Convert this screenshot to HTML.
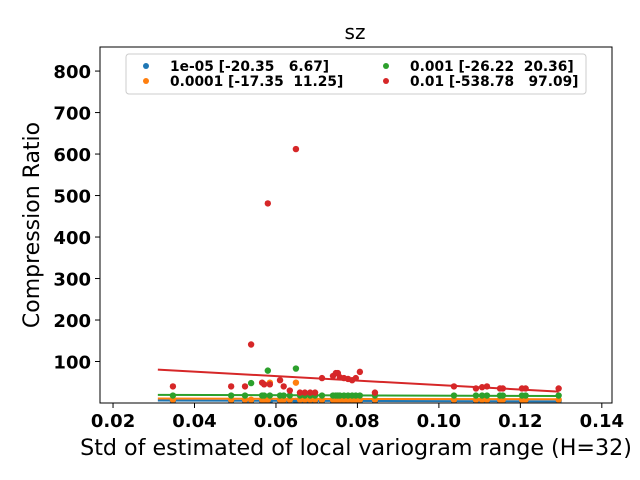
<!DOCTYPE html>
<html><head><meta charset="utf-8"><style>
body{margin:0;background:#fff;}
svg{display:block;font-family:"DejaVu Sans","Liberation Sans",sans-serif;}
</style></head><body>
<svg id="chart" width="640" height="480">
<rect x="0" y="0" width="640" height="480" fill="#fff"/>
<text x="355" y="39" text-anchor="middle" font-size="20">sz</text>
<g id="plot"></g>
<text x="356" y="455" text-anchor="middle" font-size="22.2">Std of estimated of local variogram range (H=32)</text>
<text transform="translate(39,225) rotate(-90)" text-anchor="middle" font-size="22">Compression Ratio</text>
</svg>
<script>
const xs = [0.0347,0.049,0.0524,0.0539,0.0566,0.0571,0.058,0.0585,0.061,0.0619,0.0634,0.0649,0.0659,0.0671,0.0684,0.0696,0.0713,0.074,0.0747,0.0752,0.0757,0.0767,0.0777,0.0787,0.0796,0.0806,0.0843,0.1037,0.1091,0.1106,0.1118,0.115,0.1157,0.1204,0.1213,0.1294];
const redVals = [40,40,40,141,49,45,481,45,55,40,30,612,25,25,25,25,60,65,72,72,62,60,58,55,60,75,25,40,35,38,40,35,35,35,35,35];
const greenVals = [18,18,18,48,18,18,78,18,18,18,18,83,18,18,18,18,18,18,18,18,18,18,18,18,18,18,18,18,18,18,18,18,18,18,18,18];
const orangeVals = [8,8,8,8,8,8,8,49,8,8,8,49,8,8,8,8,8,8,8,8,8,8,8,8,8,8,8,8,8,8,8,8,8,8,8,8];
const blueVals = [5,5,5,5,5,5,5,5,5,5,5,5,5,5,5,5,5,5,5,5,5,5,5,5,5,5,5,5,5,5,5,5,5,5,5,5];
const seriesNames = ["1e-05","0.0001","0.001","0.01"];
const slopes = [-20.35,-17.35,-26.22,-538.78];
const intercepts = [6.67,11.25,20.36,97.09];
const lineRange = [0.031,0.1294];
const xTicks = [0.02,0.04,0.06,0.08,0.10,0.12,0.14];
const xTickLabels = ["0.02","0.04","0.06","0.08","0.10","0.12","0.14"];
const yTicks = [100,200,300,400,500,600,700,800];

const X0=100,X1=612,Y0=403,Y1=47;
const xMin=0.0168,xMax=0.1425,yMin=0,yMax=858;
const sx=v=>X0+(v-xMin)/(xMax-xMin)*(X1-X0);
const sy=v=>Y0-(v-yMin)/(yMax-yMin)*(Y0-Y1);
const NS="http://www.w3.org/2000/svg";
const plot=document.getElementById('plot');
function mk(tag,attrs,parent){const e=document.createElementNS(NS,tag);for(const k in attrs)e.setAttribute(k,attrs[k]);(parent||plot).appendChild(e);return e;}
const colors=["#1f77b4","#ff7f0e","#2ca02c","#d62728"];
const allVals=[blueVals,orangeVals,greenVals,redVals];

const clip=mk('clipPath',{id:'pc'});mk('rect',{x:X0,y:Y1,width:X1-X0,height:Y0-Y1},clip);
const area=mk('g',{'clip-path':'url(#pc)'});
allVals.forEach((vals,si)=>{
  const g=mk('g',{},area);
  
  
  vals.forEach((v,i)=>{
    const c=mk('circle',{cx:sx(xs[i]),cy:sy(v),r:3.2,fill:colors[si]},g);
    
    
  });
  const l=mk('line',{x1:sx(lineRange[0]),y1:sy(slopes[si]*lineRange[0]+intercepts[si]),x2:sx(lineRange[1]),y2:sy(slopes[si]*lineRange[1]+intercepts[si]),stroke:colors[si],'stroke-width':2},g);
  
  
});
const ax=mk('rect',{x:X0,y:Y1,width:X1-X0,height:Y0-Y1,fill:'none',stroke:'#000','stroke-width':1});


xTicks.forEach((t,i)=>{
  const x=sx(t);
  mk('line',{x1:x,y1:Y0,x2:x,y2:Y0+5,stroke:'#000'});
  const tx=mk('text',{x:x,y:Y0+24,'text-anchor':'middle','font-size':18,'font-weight':'bold'});
  tx.textContent=xTickLabels[i];
  
  
});
yTicks.forEach(t=>{
  const y=sy(t);
  mk('line',{x1:X0-5,y1:y,x2:X0,y2:y,stroke:'#000'});
  const tx=mk('text',{x:X0-9,y:y+7,'text-anchor':'end','font-size':18,'font-weight':'bold'});
  tx.textContent=t;
  
  
});
const lg=mk('g',{});


mk('rect',{x:126,y:54,width:460,height:40,rx:3,fill:'#fff',stroke:'#ccc'},lg);
const pos=[[146,66],[146,81],[386,66],[386,81]];
seriesNames.forEach((n,i)=>{
  const e=mk('g',{},lg);
  
  
  mk('circle',{cx:pos[i][0],cy:pos[i][1],r:3,fill:colors[i]},e);
  const t=mk('text',{x:pos[i][0]+24,y:pos[i][1]+5,'font-size':13.8,'font-weight':'bold'},e);
  t.style.whiteSpace='pre';
  const a=slopes[i].toFixed(2), b=intercepts[i].toFixed(2);
  const w=Math.max(a.length,b.length);
  t.textContent=n+' ['+a.padStart(w,' ')+' '+b.padStart(w,' ')+']';
});
</script>
</body></html>
